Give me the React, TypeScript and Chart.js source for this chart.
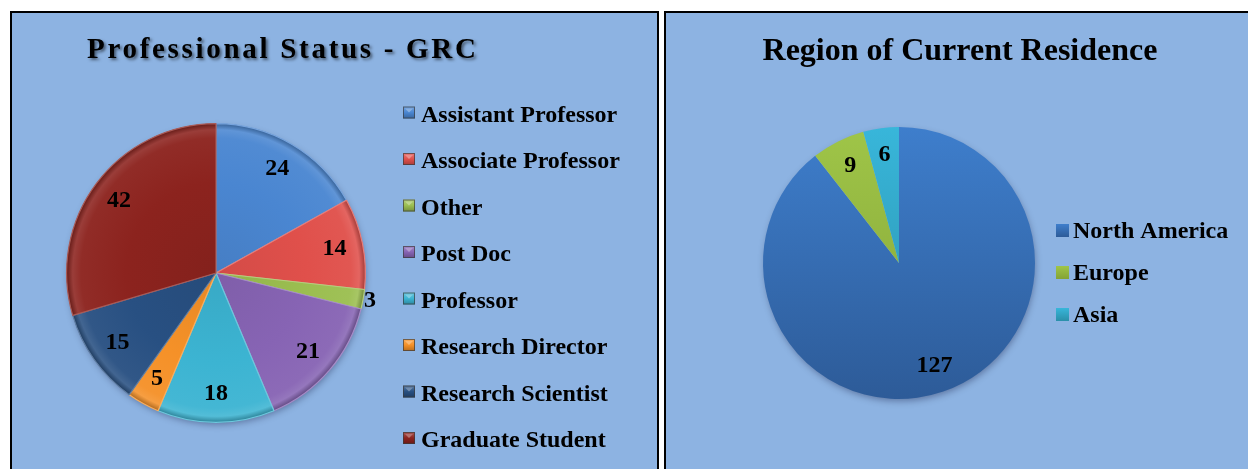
import React, { useEffect, useRef } from "react";
import { Chart, registerables } from "chart.js";

Chart.register(...registerables);

// ---------- data ----------
const statusTitle = "Professional Status - GRC";
const statusLabels = [
  "Assistant Professor",
  "Associate Professor",
  "Other",
  "Post Doc",
  "Professor",
  "Research Director",
  "Research Scientist",
  "Graduate Student",
];
const statusValues = [24, 14, 3, 21, 18, 5, 15, 42];
const statusColors = ["#4A86D1", "#E0504B", "#9BBE50", "#8764B4", "#3CB4D2", "#F59128", "#285082", "#8C231E"];

const regionTitle = "Region of Current Residence";
const regionLabels = ["North America", "Europe", "Asia"];
const regionValues = [127, 9, 6];
const regionColorsTop = ["#3E7ECC", "#9FC548", "#38B6DA"];
const regionColorsBottom = ["#2D5B98", "#84A336", "#2A8FA9"];

const BG = "#8DB3E2";
const SERIF = '"Liberation Serif", "Times New Roman", "DejaVu Serif", serif';

function shade(hex: string, amt: number) {
  const n = parseInt(hex.slice(1), 16);
  const r = (n >> 16) & 255,
    g = (n >> 8) & 255,
    b = n & 255;
  const f = (v: number) => (amt >= 0 ? Math.round(v + (255 - v) * amt) : Math.round(v * (1 + amt)));
  return `rgb(${f(r)},${f(g)},${f(b)})`;
}

type DecorCfg = {
  title: string;
  titleFont: string;
  titleX: number;
  titleY: number;
  titleAlign: CanvasTextAlign;
  letterSpacing: string;
  titleShadow: boolean;
  legendColors: string[];
  legendBoxX: number;
  legendTextX: number;
  legendBase0: number;
  legendStep: number;
  legendFont: string;
  boxSize: number;
  boxOffset: number;
  labelFont: string;
  labelRadius: number;
  outsideBelow: number;
  outsideGap: number;
  bevelBox: boolean;
};

function makeDecor(cfg: DecorCfg) {
  return {
    id: "decor",
    beforeDatasetsDraw(chart: any) {
      const arc = chart.getDatasetMeta(0).data[0];
      if (!arc) return;
      const p = arc.getProps(["x", "y", "outerRadius"], true);
      const ctx = chart.ctx as CanvasRenderingContext2D;
      ctx.save();
      ctx.shadowColor = "rgba(0,0,40,0.35)";
      ctx.shadowBlur = 7;
      ctx.shadowOffsetX = 1;
      ctx.shadowOffsetY = 3;
      ctx.fillStyle = BG;
      ctx.beginPath();
      ctx.arc(p.x, p.y, p.outerRadius - 1, 0, Math.PI * 2);
      ctx.fill();
      ctx.restore();
    },
    afterDatasetsDraw(chart: any) {
      const ctx = chart.ctx as CanvasRenderingContext2D;
      const meta = chart.getDatasetMeta(0);
      const values = chart.data.datasets[0].data as number[];
      ctx.save();
      ctx.font = cfg.labelFont;
      ctx.fillStyle = "#000";
      ctx.textAlign = "center";
      ctx.textBaseline = "middle";
      meta.data.forEach((el: any, i: number) => {
        const p = el.getProps(["x", "y", "startAngle", "endAngle", "outerRadius"], true);
        const mid = (p.startAngle + p.endAngle) / 2;
        const rr = values[i] < cfg.outsideBelow ? p.outerRadius + cfg.outsideGap : p.outerRadius * cfg.labelRadius;
        ctx.fillText(String(values[i]), p.x + Math.cos(mid) * rr, p.y + Math.sin(mid) * rr);
      });
      ctx.restore();
    },
    afterDraw(chart: any) {
      const ctx = chart.ctx as CanvasRenderingContext2D;
      // title
      ctx.save();
      ctx.font = cfg.titleFont;
      (ctx as any).letterSpacing = cfg.letterSpacing;
      ctx.fillStyle = "#000";
      ctx.textAlign = cfg.titleAlign;
      ctx.textBaseline = "alphabetic";
      if (cfg.titleShadow) {
        ctx.shadowColor = "rgba(0,0,0,0.5)";
        ctx.shadowBlur = 3;
        ctx.shadowOffsetX = 2;
        ctx.shadowOffsetY = 2;
      }
      ctx.fillText(cfg.title, cfg.titleX, cfg.titleY);
      (ctx as any).letterSpacing = "0px";
      ctx.restore();

      // legend
      const labels = chart.data.labels as string[];
      ctx.save();
      ctx.font = cfg.legendFont;
      ctx.textAlign = "left";
      ctx.textBaseline = "alphabetic";
      labels.forEach((lab, i) => {
        const base = cfg.legendBase0 + cfg.legendStep * i;
        const col = cfg.legendColors[i];
        const bx = cfg.legendBoxX;
        const by = base - cfg.boxOffset;
        const s = cfg.boxSize;
        if (cfg.bevelBox) {
          const g = ctx.createLinearGradient(0, by, 0, by + s);
          g.addColorStop(0, shade(col, 0.25));
          g.addColorStop(0.5, col);
          g.addColorStop(1, shade(col, -0.25));
          ctx.fillStyle = g;
          ctx.fillRect(bx, by, s, s);
          ctx.strokeStyle = "rgba(60,60,60,0.7)";
          ctx.lineWidth = 1;
          ctx.strokeRect(bx + 0.5, by + 0.5, s - 1, s - 1);
          ctx.fillStyle = shade(col, 0.35);
          ctx.beginPath();
          ctx.moveTo(bx + 2, by + 2);
          ctx.lineTo(bx + s - 2, by + 2);
          ctx.lineTo(bx + s / 2, by + s / 2);
          ctx.closePath();
          ctx.fill();
        } else {
          const g = ctx.createLinearGradient(0, by, 0, by + s);
          g.addColorStop(0, regionColorsTop[i] || col);
          g.addColorStop(1, regionColorsBottom[i] || col);
          ctx.fillStyle = g;
          ctx.fillRect(bx, by, s, s);
        }
        ctx.fillStyle = "#000";
        ctx.fillText(lab, cfg.legendTextX, base);
      });
      ctx.restore();
    },
  };
}

function StatusChart() {
  const ref = useRef<HTMLCanvasElement | null>(null);
  useEffect(() => {
    if (!ref.current) return;
    const chart = new Chart(ref.current, {
      type: "pie",
      data: {
        labels: statusLabels,
        datasets: [
          {
            data: statusValues,
            backgroundColor: (c: any) => {
              const base = statusColors[c.dataIndex] || "#888";
              const ca = c.chart.chartArea;
              if (!ca) return base;
              const cx = (ca.left + ca.right) / 2;
              const cy = (ca.top + ca.bottom) / 2;
              const r = Math.min(ca.width, ca.height) / 2;
              const g = c.chart.ctx.createRadialGradient(cx, cy, 0, cx, cy, r);
              g.addColorStop(0, shade(base, -0.06));
              g.addColorStop(0.6, base);
              g.addColorStop(0.9, shade(base, 0.04));
              g.addColorStop(0.955, shade(base, 0.12));
              g.addColorStop(1, shade(base, -0.3));
              return g;
            },
            borderColor: statusColors.map((c) => shade(c, 0.25)),
            borderWidth: 1.2,
          },
        ],
      },
      options: {
        responsive: false,
        animation: false,
        events: [],
        layout: { padding: { left: 54, right: 291, top: 110, bottom: 46 } },
        plugins: { legend: { display: false }, tooltip: { enabled: false }, title: { display: false } },
      },
      plugins: [
        makeDecor({
          title: statusTitle,
          titleFont: `bold 29px ${SERIF}`,
          titleX: 75,
          titleY: 45,
          titleAlign: "left",
          letterSpacing: "2.7px",
          titleShadow: true,
          legendColors: statusColors,
          legendBoxX: 391,
          legendTextX: 409,
          legendBase0: 108.5,
          legendStep: 46.5,
          legendFont: `bold 24px ${SERIF}`,
          boxSize: 12,
          boxOffset: 15,
          labelFont: `bold 24px ${SERIF}`,
          labelRadius: 0.81,
          outsideBelow: 4,
          outsideGap: 7,
          bevelBox: true,
        }) as any,
      ],
    });
    return () => chart.destroy();
  }, []);
  return <canvas ref={ref} width={645} height={456} style={{ display: "block" }} />;
}

function RegionChart() {
  const ref = useRef<HTMLCanvasElement | null>(null);
  useEffect(() => {
    if (!ref.current) return;
    const chart = new Chart(ref.current, {
      type: "pie",
      data: {
        labels: regionLabels,
        datasets: [
          {
            data: regionValues,
            backgroundColor: (c: any) => {
              const i = c.dataIndex;
              const ca = c.chart.chartArea;
              if (!ca) return regionColorsTop[i];
              const g = c.chart.ctx.createLinearGradient(0, ca.top, 0, ca.bottom);
              g.addColorStop(0, regionColorsTop[i]);
              g.addColorStop(1, regionColorsBottom[i]);
              return g;
            },
            borderWidth: 0,
          },
        ],
      },
      options: {
        responsive: false,
        animation: false,
        events: [],
        layout: { padding: { left: 97, right: 213, top: 114, bottom: 70 } },
        plugins: { legend: { display: false }, tooltip: { enabled: false }, title: { display: false } },
      },
      plugins: [
        makeDecor({
          title: regionTitle,
          titleFont: `bold 32px ${SERIF}`,
          titleX: 294,
          titleY: 47,
          titleAlign: "center",
          letterSpacing: "0px",
          titleShadow: false,
          legendColors: regionColorsTop,
          legendBoxX: 390,
          legendTextX: 407,
          legendBase0: 224.5,
          legendStep: 42,
          legendFont: `bold 24px ${SERIF}`,
          boxSize: 13,
          boxOffset: 13.5,
          labelFont: `bold 24px ${SERIF}`,
          labelRadius: 0.8,
          outsideBelow: 0,
          outsideGap: 0,
          bevelBox: false,
        }) as any,
      ],
    });
    return () => chart.destroy();
  }, []);
  return <canvas ref={ref} width={582} height={456} style={{ display: "block" }} />;
}

export default function App() {
  return (
    <div
      style={{
        position: "absolute",
        left: 0,
        top: 0,
        width: 1248,
        height: 469,
        overflow: "hidden",
        background: "#fff",
      }}
    >
      <div
        style={{
          position: "absolute",
          left: 10,
          top: 11,
          width: 649,
          height: 480,
          boxSizing: "border-box",
          border: "2px solid #000",
          background: BG,
        }}
      >
        <StatusChart />
      </div>
      <div
        style={{
          position: "absolute",
          left: 664,
          top: 11,
          width: 700,
          height: 480,
          boxSizing: "border-box",
          border: "2px solid #000",
          background: BG,
        }}
      >
        <RegionChart />
      </div>
    </div>
  );
}
